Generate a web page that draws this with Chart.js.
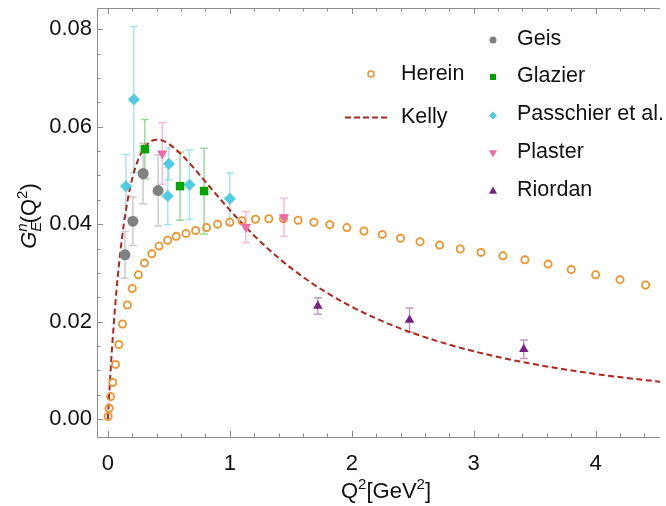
<!DOCTYPE html>
<html>
<head>
<meta charset="utf-8">
<script src="https://cdn.jsdelivr.net/npm/chart.js@4.4.1/dist/chart.umd.min.js"></script>
<style>
  html, body { margin: 0; padding: 0; background: #fff; }
</style>
</head>
<body>
<canvas id="chart" width="666" height="506"></canvas>
<script>
// Neutron electric form factor G_E^n(Q^2)

// Herein (open circles)
const hereinQ2 = [0.0025, 0.01, 0.023, 0.04, 0.063, 0.09, 0.12, 0.16, 0.20, 0.25, 0.30, 0.36, 0.42, 0.49, 0.56, 0.64, 0.72, 0.81, 0.90, 1.00, 1.10, 1.21, 1.32, 1.44, 1.56, 1.69, 1.82, 1.96, 2.10, 2.25, 2.40, 2.56, 2.72, 2.89, 3.06, 3.24, 3.42, 3.61, 3.80, 4.00, 4.20, 4.41];
const hereinGE = [0.0005, 0.0022, 0.0046, 0.0075, 0.0112, 0.0153, 0.0195, 0.0234, 0.0268, 0.0296, 0.0320, 0.0339, 0.0355, 0.0367, 0.0375, 0.0381, 0.0387, 0.0393, 0.0400, 0.0404, 0.0407, 0.0410, 0.0411, 0.0411, 0.0408, 0.0404, 0.0399, 0.0393, 0.0386, 0.0379, 0.0371, 0.0364, 0.0357, 0.0349, 0.0342, 0.0335, 0.0327, 0.0318, 0.0307, 0.0296, 0.0286, 0.0275];

// Kelly (dashed curve)
const kellyQ2 = [0, 0.005, 0.01, 0.02, 0.04, 0.06, 0.08, 0.10, 0.13, 0.16, 0.20, 0.25, 0.30, 0.35, 0.40, 0.45, 0.50, 0.60, 0.70, 0.80, 0.90, 1.00, 1.20, 1.40, 1.60, 1.80, 2.00, 2.25, 2.50, 2.75, 3.00, 3.25, 3.50, 3.75, 4.00, 4.25, 4.53];
const kellyGE = [0, 0.00236, 0.00464, 0.00894, 0.01664, 0.02326, 0.02895, 0.03383, 0.03987, 0.04463, 0.04938, 0.05337, 0.05575, 0.05697, 0.05735, 0.05714, 0.05649, 0.05437, 0.05166, 0.04872, 0.04577, 0.04290, 0.03763, 0.03306, 0.02916, 0.02585, 0.02304, 0.02009, 0.01765, 0.01562, 0.01391, 0.01246, 0.01122, 0.01016, 0.00924, 0.00843, 0.00765];

// experimental data with errors
const geisQ2 = [0.140, 0.205, 0.289, 0.412];
const geisGE = [0.0337, 0.0406, 0.0504, 0.0469];
const geisErr = [0.0048, 0.0050, 0.0062, 0.0073];

const glazierQ2 = [0.303, 0.592, 0.789];
const glazierGE = [0.0554, 0.0478, 0.0468];
const glazierErr = [0.0061, 0.0070, 0.0088];

const passchierQ2 = [0.148, 0.213, 0.500, 0.491, 0.670, 1.000];
const passchierGE = [0.0478, 0.0656, 0.0524, 0.0458, 0.0481, 0.0452];
const passchierErr = [0.0065, 0.0150, 0.0033, 0.0059, 0.0071, 0.0053];

const plasterQ2 = [0.446, 1.132, 1.444];
const plasterGE = [0.0545, 0.0394, 0.0414];
const plasterErr = [0.0063, 0.0032, 0.0039];

const riordanQ2 = [1.722, 2.474, 3.411];
const riordanGE = [0.0232, 0.0203, 0.0143];
const riordanErr = [0.0017, 0.0025, 0.0019];

// axes
const xTicks = [0, 1, 2, 3, 4];
const yTicks = [0, 0.02, 0.04, 0.06, 0.08];

const FONT = "'Liberation Sans', Arial, sans-serif";
const TEXT = '#111';
const FRAME = '#8c8c8c';

const COL = {
    herein: '#f0922b',
    kelly: '#b3261e',
    geis: '#808080',
    glazier: '#00a500',
    passchier: '#4fcbe2',
    plaster: '#f06aa8',
    riordan: '#7b1f83'
};

function pts(xs, ys) {
    return xs.map((x, i) => ({ x: x, y: ys[i] }));
}

function pointSet(label, xs, ys, errs, color, errColor, style, radius, rotation) {
    return {
        label: label,
        data: pts(xs, ys),
        errors: errs,
        errColor: errColor,
        pointStyle: style,
        pointRadius: radius,
        pointRotation: rotation || 0,
        backgroundColor: color,
        borderColor: color,
        pointBorderWidth: 0,
        order: 1
    };
}

// error bars, drawn under the markers
const errorBars = {
    id: 'errorBars',
    beforeDatasetsDraw(chart) {
        const ctx = chart.ctx;
        const xs = chart.scales.x, ys = chart.scales.y;
        chart.data.datasets.forEach(ds => {
            if (!ds.errors) return;
            ctx.save();
            ctx.strokeStyle = ds.errColor;
            ctx.lineWidth = 1.5;
            ds.data.forEach((p, i) => {
                const px = xs.getPixelForValue(p.x);
                const t = ys.getPixelForValue(p.y + ds.errors[i]);
                const b = ys.getPixelForValue(p.y - ds.errors[i]);
                ctx.beginPath();
                ctx.moveTo(px, t); ctx.lineTo(px, b);
                ctx.moveTo(px - 4, t); ctx.lineTo(px + 4, t);
                ctx.moveTo(px - 4, b); ctx.lineTo(px + 4, b);
                ctx.stroke();
            });
            ctx.restore();
        });
    }
};

// rich text: parts with italic / size / vertical shift
function richWidth(ctx, parts) {
    let w = 0;
    parts.forEach(p => {
        ctx.font = (p.italic ? 'italic ' : '') + p.size + 'px ' + FONT;
        const pw = ctx.measureText(p.t).width;
        if (!p.stack) w += pw;
    });
    return w;
}

function drawRich(ctx, parts, x, y) {
    let cx = x;
    let lastW = 0;
    parts.forEach(p => {
        ctx.font = (p.italic ? 'italic ' : '') + p.size + 'px ' + FONT;
        const pw = ctx.measureText(p.t).width;
        if (p.stack) {
            ctx.fillText(p.t, cx - lastW, y + (p.dy || 0));
        } else {
            ctx.fillText(p.t, cx, y + (p.dy || 0));
            cx += pw;
            lastW = pw;
        }
    });
}

// frame with inward ticks and axis titles
const frame = {
    id: 'frame',
    afterDraw(chart) {
        const ctx = chart.ctx;
        const a = chart.chartArea;
        const xs = chart.scales.x, ys = chart.scales.y;
        ctx.save();
        ctx.strokeStyle = FRAME;
        ctx.lineWidth = 1;
        ctx.beginPath();
        ctx.moveTo(a.right, a.top + 0.5);
        ctx.lineTo(a.left + 0.5, a.top + 0.5);
        ctx.lineTo(a.left + 0.5, a.bottom + 0.5);
        ctx.lineTo(a.right, a.bottom + 0.5);
        ctx.stroke();

        ctx.beginPath();
        for (let k = 0; k <= 22; k++) {
            const v = k * 0.2;
            const px = Math.round(xs.getPixelForValue(v)) + 0.5;
            const len = k % 5 === 0 ? 6 : 3.5;
            ctx.moveTo(px, a.bottom); ctx.lineTo(px, a.bottom - len);
            ctx.moveTo(px, a.top); ctx.lineTo(px, a.top + len);
        }
        for (let k = 0; k <= 16; k++) {
            const v = k * 0.005;
            const py = Math.round(ys.getPixelForValue(v)) + 0.5;
            const len = k % 4 === 0 ? 6 : 3.5;
            ctx.moveTo(a.left, py); ctx.lineTo(a.left + len, py);
        }
        ctx.stroke();

        ctx.fillStyle = TEXT;
        ctx.textBaseline = 'alphabetic';
        // x title
        const xt = [
            { t: 'Q', size: 22 },
            { t: '2', size: 15, dy: -9 },
            { t: '[GeV', size: 22 },
            { t: '2', size: 15, dy: -9 },
            { t: ']', size: 22 }
        ];
        const xw = richWidth(ctx, xt);
        drawRich(ctx, xt, 386 - xw / 2, 498);

        // y title, rotated
        const yt = [
            { t: 'G', size: 22, italic: true },
            { t: 'n', size: 15, italic: true, dy: -9 },
            { t: 'E', size: 15, italic: true, dy: 5, stack: true },
            { t: '(Q', size: 22 },
            { t: '2', size: 15, dy: -9 },
            { t: ')', size: 22 }
        ];
        ctx.translate(36, 216);
        ctx.rotate(-Math.PI / 2);
        const yw = richWidth(ctx, yt);
        drawRich(ctx, yt, -yw / 2, 0);
        ctx.restore();
    }
};

function marker(ctx, style, x, y, r, color, rot) {
    ctx.save();
    ctx.translate(x, y);
    if (rot) ctx.rotate(rot);
    ctx.fillStyle = color;
    ctx.beginPath();
    if (style === 'circle') {
        ctx.arc(0, 0, r, 0, Math.PI * 2);
    } else if (style === 'rect') {
        ctx.rect(-r, -r, 2 * r, 2 * r);
    } else if (style === 'diamond') {
        ctx.moveTo(0, -r); ctx.lineTo(r, 0); ctx.lineTo(0, r); ctx.lineTo(-r, 0);
    } else if (style === 'triangle') {
        ctx.moveTo(0, -r); ctx.lineTo(r * 0.9, r * 0.6); ctx.lineTo(-r * 0.9, r * 0.6);
    }
    ctx.closePath();
    ctx.fill();
    ctx.restore();
}

// in-plot legends
const legendBox = {
    id: 'legendBox',
    afterDraw(chart) {
        const ctx = chart.ctx;
        ctx.save();
        ctx.font = '21.5px ' + FONT;
        ctx.fillStyle = TEXT;
        ctx.textBaseline = 'middle';

        // left block
        ctx.strokeStyle = COL.herein;
        ctx.lineWidth = 1.6;
        ctx.beginPath();
        ctx.arc(371, 74, 3, 0, Math.PI * 2);
        ctx.stroke();
        ctx.fillText('Herein', 401, 74);

        ctx.strokeStyle = COL.kelly;
        ctx.lineWidth = 2;
        ctx.setLineDash([6, 3]);
        ctx.beginPath();
        ctx.moveTo(345, 117.5); ctx.lineTo(388, 117.5);
        ctx.stroke();
        ctx.setLineDash([]);
        ctx.fillText('Kelly', 401, 117);

        // right block
        const items = [
            ['Geis', 'circle', COL.geis, 3.5, 0, 39],
            ['Glazier', 'rect', COL.glazier, 3, 0, 76],
            ['Passchier et al.', 'diamond', COL.passchier, 4, 0, 114.5],
            ['Plaster', 'triangle', COL.plaster, 4.5, Math.PI, 152],
            ['Riordan', 'triangle', COL.riordan, 4.5, 0, 190]
        ];
        items.forEach(it => {
            marker(ctx, it[1], 493, it[5] + 1, it[3], it[2], it[4]);
            ctx.fillStyle = TEXT;
            ctx.fillText(it[0], 517, it[5]);
        });
        ctx.restore();
    }
};

const xMin = -0.0892, xMax = 4.528;
const yMin = -0.0037, yMax = 0.08438;

new Chart(document.getElementById('chart'), {
    type: 'scatter',
    data: {
        datasets: [
            pointSet('Geis', geisQ2, geisGE, geisErr, COL.geis, 'rgba(128,128,128,0.4)', 'circle', 5.5),
            pointSet('Glazier', glazierQ2, glazierGE, glazierErr, COL.glazier, 'rgba(0,165,0,0.4)', 'rect', 6),
            pointSet('Passchier et al.', passchierQ2, passchierGE, passchierErr, COL.passchier, 'rgba(79,203,226,0.5)', 'rectRot', 6),
            pointSet('Plaster', plasterQ2, plasterGE, plasterErr, COL.plaster, 'rgba(240,106,168,0.45)', 'triangle', 6, 180),
            pointSet('Riordan', riordanQ2, riordanGE, riordanErr, COL.riordan, 'rgba(123,31,131,0.45)', 'triangle', 5.5),
            {
                label: 'Herein',
                data: pts(hereinQ2, hereinGE),
                pointStyle: 'circle',
                pointRadius: 3.6,
                pointBorderWidth: 1.8,
                borderColor: COL.herein,
                backgroundColor: 'rgba(255,255,255,0)',
                order: 2
            },
            {
                type: 'line',
                label: 'Kelly',
                data: pts(kellyQ2, kellyGE),
                showLine: true,
                borderColor: COL.kelly,
                borderWidth: 2,
                borderDash: [6, 3.5],
                pointRadius: 0,
                fill: false,
                cubicInterpolationMode: 'monotone',
                order: 3
            }
        ]
    },
    options: {
        responsive: false,
        animation: false,
        layout: { padding: { left: 0, right: 0, top: 8, bottom: 0 } },
        plugins: {
            legend: { display: false },
            tooltip: { enabled: false }
        },
        scales: {
            x: {
                type: 'linear',
                min: xMin,
                max: xMax,
                grid: { display: false, drawTicks: false },
                border: { display: false },
                afterBuildTicks: s => { s.ticks = xTicks.map(v => ({ value: v })); },
                afterFit: s => { s.height = 69; s.paddingLeft = 0; s.paddingRight = 0; },
                ticks: {
                    padding: 14,
                    maxRotation: 0,
                    autoSkip: false,
                    color: TEXT,
                    font: { family: FONT, size: 22 },
                    callback: v => String(v)
                }
            },
            y: {
                type: 'linear',
                min: yMin,
                max: yMax,
                grid: { display: false, drawTicks: false },
                border: { display: false },
                afterBuildTicks: s => { s.ticks = yTicks.map(v => ({ value: v })); },
                afterFit: s => { s.width = 97; s.paddingTop = 0; s.paddingBottom = 0; },
                ticks: {
                    padding: 5,
                    autoSkip: false,
                    color: TEXT,
                    font: { family: FONT, size: 22 },
                    callback: v => v.toFixed(2)
                }
            }
        }
    },
    plugins: [errorBars, frame, legendBox]
});
</script>
</body>
</html>
